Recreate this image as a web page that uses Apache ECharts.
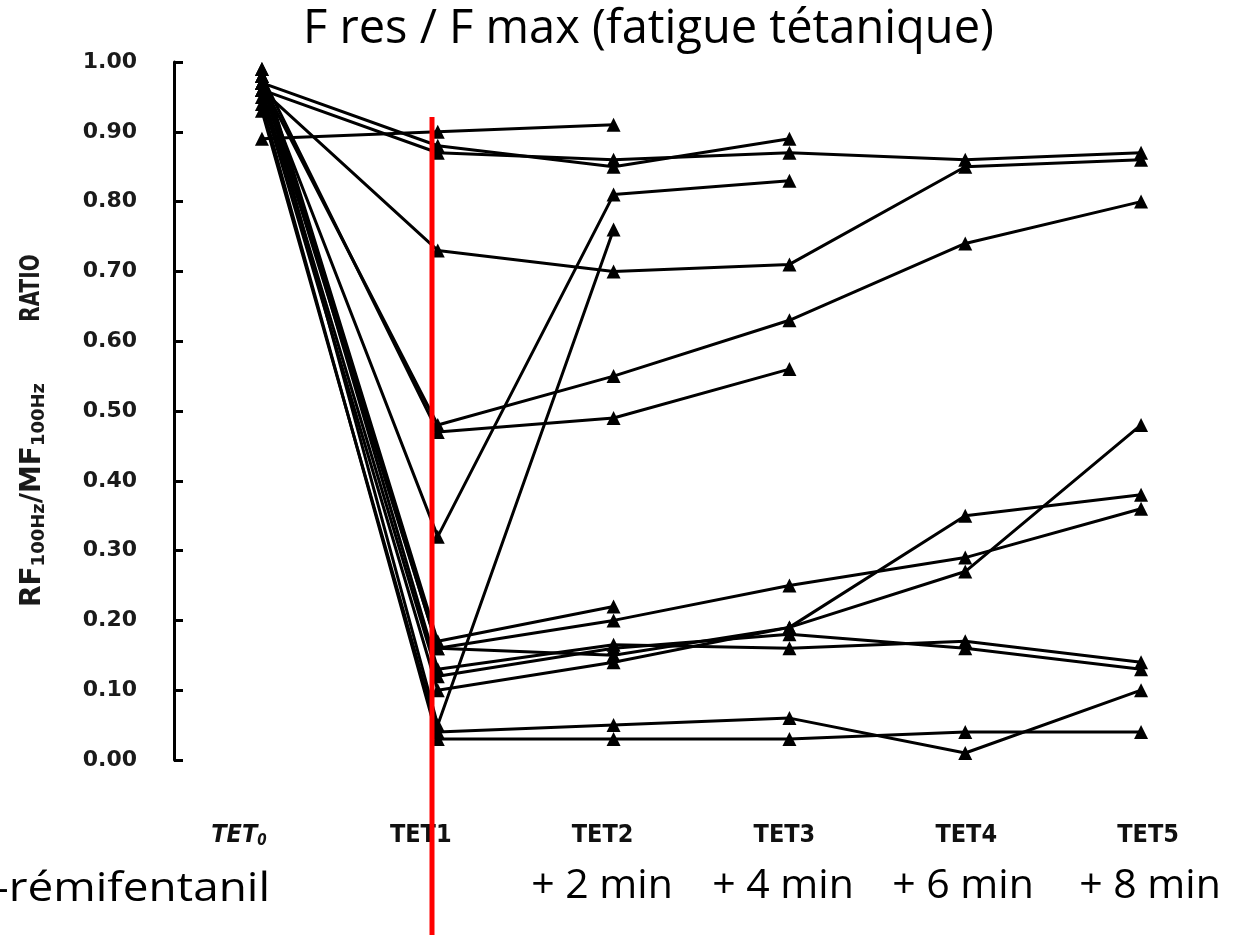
<!DOCTYPE html>
<html>
<head>
<meta charset="utf-8">
<script src="https://cdn.jsdelivr.net/npm/echarts@6/dist/echarts.min.js"></script>
<style>html,body{margin:0;padding:0;background:#fff}#c{width:1239px;height:935px}</style>
</head>
<body>
<div id="c"></div>
<script>
// ---- data ----
const categories = ['TET0', 'TET1', 'TET2', 'TET3', 'TET4', 'TET5'];
const minuteLabels = ['+ 2 min', '+ 4 min', '+ 6 min', '+ 8 min'];
const titleText = 'F res / F max (fatigue tétanique)';
const leftNote = '-rémifentanil';

const s01 = [0.89, 0.90, 0.91];
const s02 = [0.97, 0.88, 0.85, 0.89];
const s03 = [0.96, 0.87, 0.86, 0.87, 0.86, 0.87];
const s04 = [0.96, 0.73, 0.70, 0.71, 0.85, 0.86];
const s05 = [0.97, 0.48, 0.55, 0.63, 0.74, 0.80];
const s06 = [0.98, 0.47, 0.49, 0.56];
const s07 = [0.97, 0.32, 0.81, 0.83];
const s08 = [0.99, 0.17, 0.22];
const s09 = [0.98, 0.16, 0.20, 0.25, 0.29, 0.36];
const s10 = [0.97, 0.16, 0.15, 0.19, 0.35, 0.38];
const s11 = [0.99, 0.13, 0.165, 0.16, 0.17, 0.14];
const s12 = [0.96, 0.12, 0.16, 0.18, 0.16, 0.13];
const s13 = [0.95, 0.10, 0.14, 0.19, 0.27, 0.48];
const s14 = [0.93, 0.04, 0.05, 0.06, 0.01, 0.10];
const s15 = [0.94, 0.03, 0.03, 0.03, 0.04, 0.04];
const s16 = [0.98, 0.05, 0.76];

const subjects = [s01, s02, s03, s04, s05, s06, s07, s08, s09, s10, s11, s12, s13, s14, s15, s16];

// ---- chart ----
const chart = echarts.init(document.getElementById('c'), null, {renderer: 'canvas'});

const series = subjects.map((d, i) => ({
  name: 'S' + (i + 1),
  type: 'line',
  xAxisIndex: 0,
  yAxisIndex: 0,
  data: d,
  symbol: 'triangle',
  symbolSize: 14,
  lineStyle: {color: '#000', width: 3},
  itemStyle: {color: '#000'},
  emphasis: {disabled: true},
  animation: false,
  z: 3
}));

const minuteX = [602, 783, 963, 1150];

const option = {
  animation: false,
  backgroundColor: '#fff',
  title: {
    text: titleText,
    left: 298,
    top: 1,
    textStyle: {fontFamily: 'Open Sans', fontSize: 47, fontWeight: 'normal', color: '#000'}
  },
  grid: [
    {left: 174, top: 62, width: 1055, bottom: 175, containLabel: false},
    {left: 148, top: 62, width: 1098, bottom: 175, containLabel: false}
  ],
  xAxis: [
    {
      gridIndex: 0, type: 'category', data: categories, boundaryGap: true,
      axisLine: {show: false}, axisTick: {show: false}, axisLabel: {show: false},
      splitLine: {show: false}
    },
    {
      gridIndex: 1, type: 'category', data: categories, boundaryGap: true,
      axisLine: {show: false}, axisTick: {show: false}, splitLine: {show: false},
      axisLabel: {
        margin: 61,
        formatter: function (v) {
          if (v === 'TET0') return '{it|TET}{sub|0}';
          return '{b|' + v + '}';
        },
        rich: {
          b: {fontFamily: 'DejaVu Sans Condensed', fontWeight: 'bold', fontSize: 25, color: '#111', lineHeight: 28},
          it: {fontFamily: 'DejaVu Sans Condensed', fontWeight: 'bold', fontStyle: 'italic', fontSize: 25, color: '#111', lineHeight: 28},
          sub: {fontFamily: 'DejaVu Sans Condensed', fontWeight: 'bold', fontStyle: 'italic', fontSize: 15, color: '#111', verticalAlign: 'bottom', lineHeight: 15}
        }
      }
    }
  ],
  yAxis: [
    {
      gridIndex: 0, type: 'value', min: 0, max: 1, interval: 0.1,
      axisLine: {show: true, lineStyle: {color: '#000', width: 3}},
      axisTick: {show: true, inside: true, length: 9, lineStyle: {color: '#000', width: 3}},
      splitLine: {show: false},
      axisLabel: {
        margin: 37,
        formatter: v => v.toFixed(2),
        fontFamily: 'DejaVu Sans', fontWeight: 'bold', fontSize: 22, color: '#1a1a1a'
      }
    },
    {
      gridIndex: 1, type: 'value', min: 0, max: 1, show: false
    }
  ],
  graphic: [
    {
      type: 'text', x: 32, y: 288, rotation: Math.PI / 2, scaleY: 1.35, originX: 0, originY: 0, z: 10,
      style: {
        text: 'RATIO', align: 'center', verticalAlign: 'middle', textAlign: 'center', textVerticalAlign: 'middle',
        fontFamily: 'DejaVu Sans', fontWeight: 'bold', fontSize: 20, fill: '#1a1a1a'
      }
    },
    {
      type: 'text', x: 33, y: 495, rotation: Math.PI / 2, z: 10,
      style: {
        text: '{m|RF}{s|100Hz}{m|/MF}{s|100Hz}',
        align: 'center', verticalAlign: 'middle', textAlign: 'center', textVerticalAlign: 'middle',
        rich: {
          m: {fontFamily: 'DejaVu Sans', fontWeight: 'bold', fontSize: 28, fill: '#1a1a1a', color: '#1a1a1a', lineHeight: 31},
          s: {fontFamily: 'DejaVu Sans', fontWeight: 'bold', fontSize: 18, fill: '#1a1a1a', color: '#1a1a1a', verticalAlign: 'bottom', lineHeight: 18}
        }
      }
    },
    {
      type: 'line', z: 100,
      shape: {x1: 432, y1: 117, x2: 432, y2: 935},
      style: {stroke: '#ff0000', lineWidth: 5}
    },
    {
      type: 'text', x: 270, y: 889, z: 10, scaleX: 1.12, originX: 0, originY: 0,
      style: {
        text: leftNote, align: 'right', verticalAlign: 'middle', textAlign: 'right', textVerticalAlign: 'middle',
        fontFamily: 'Open Sans', fontSize: 41, fill: '#000'
      }
    }
  ].concat(minuteLabels.map((t, i) => ({
    type: 'text', x: minuteX[i], y: 886, z: 10,
    style: {
      text: t, align: 'center', verticalAlign: 'middle', textAlign: 'center', textVerticalAlign: 'middle',
      fontFamily: 'Open Sans', fontSize: 41, fill: '#000'
    }
  }))),
  series: series
};

chart.setOption(option);
</script>
</body>
</html>
